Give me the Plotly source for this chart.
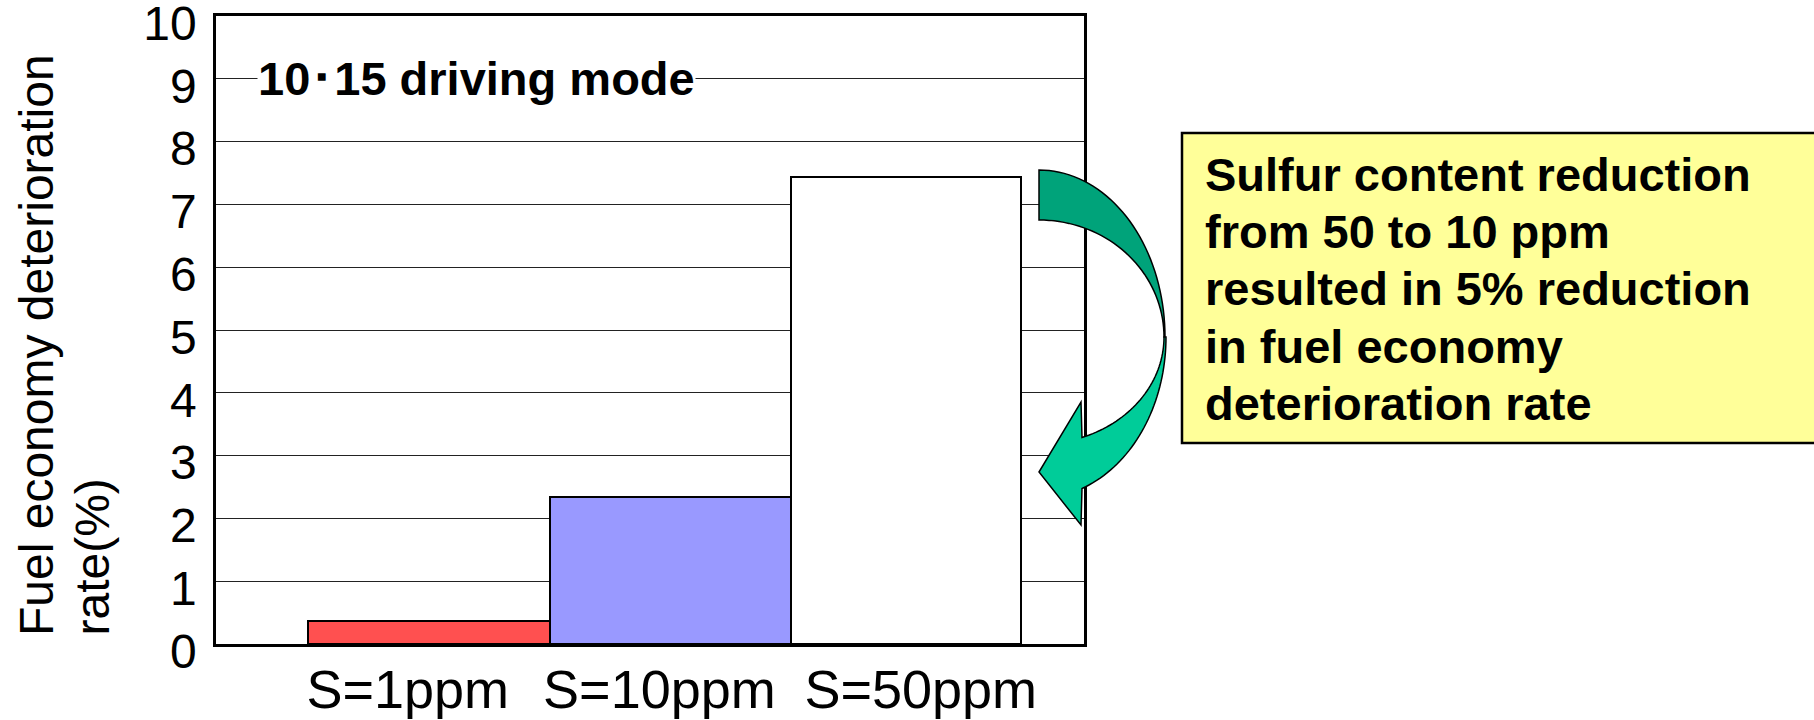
import numpy as np
import plotly.graph_objects as go

# ---------------- data ----------------
categories = ["S=1ppm", "S=10ppm", "S=50ppm"]
deterioration = [0.37, 2.34, 7.44]
bar_colors = ["#FF5050", "#9999FF", "#FFFFFF"]
y_ticks = list(range(0, 11))
y_title_lines = ["Fuel economy deterioration", "rate(%)"]
mode_label = "10･15 driving mode"
note_lines = [
    "Sulfur content reduction",
    "from 50 to 10 ppm",
    "resulted in 5% reduction",
    "in fuel economy",
    "deterioration rate",
]

# ---------------- layout helpers (pixels -> paper) ----------------
W, H = 1814, 720
L, R, T, B = 216, 1084, 16, 644          # plot area in pixels
def px(x):
    return (x - L) / (R - L)
def py(y):
    return (B - y) / (B - T)

FONT = "Arial, Liberation Sans, sans-serif"
bar_widths = [1, 1, 0.952]
label_shift = [-0.087, -0.045, 0.037]
xpos = list(range(len(categories)))

fig = go.Figure()
fig.add_trace(go.Bar(
    x=xpos, y=deterioration, width=bar_widths, offset=-0.5,
    marker=dict(color=bar_colors, line=dict(color="black", width=2)),
    hoverinfo="skip", showlegend=False,
))

fig.update_layout(
    width=W, height=H,
    margin=dict(l=L, r=W - R, t=T, b=H - B, pad=0, autoexpand=False),
    paper_bgcolor="white", plot_bgcolor="white",
    font=dict(family=FONT, color="black"),
    bargap=0,
    xaxis=dict(
        range=[-0.881, 2.713], tickvals=[i + s for i, s in zip(xpos, label_shift)],
        ticktext=categories, tickfont=dict(size=54, family=FONT, color="black"),
        showgrid=False, zeroline=False, ticks="", ticklabelstandoff=-4, automargin=False,
        showline=True, linecolor="black", linewidth=2.5, mirror=True,
    ),
    yaxis=dict(
        range=[0, 10], tickvals=y_ticks, tickfont=dict(size=48, family=FONT, color="black"),
        showgrid=True, gridcolor="#222222", gridwidth=1.2, zeroline=False, ticks="",
        ticklabelstandoff=7, ticklabelshift=7, automargin=False, ticklabeloverflow="allow",
        showline=True, linecolor="black", linewidth=2.5, mirror=True,
    ),
)

annotations = []
# driving mode label sitting on the 9 gridline
annotations.append(dict(
    text=f"<b>{mode_label}</b>", x=px(476.5), y=9, xref="paper", yref="y",
    xanchor="center", yanchor="middle", showarrow=False, bgcolor="white", borderpad=0,
    font=dict(size=47, family=FONT, color="black"),
))
# y title lines (rotated, bottom-aligned)
for line, cx in zip(y_title_lines, [36, 92]):
    annotations.append(dict(
        text=line, x=px(cx), y=py(638), xref="paper", yref="paper",
        xanchor="center", yanchor="bottom", textangle=-90, showarrow=False,
        font=dict(size=48, family=FONT, color="black"),
    ))
# note box text
for i, line in enumerate(note_lines):
    annotations.append(dict(
        text=f"<b>{line}</b>", x=px(1203), y=py(174.5 + 57.2 * i), xref="paper", yref="paper",
        xanchor="left", yanchor="middle", showarrow=False,
        font=dict(size=47, family=FONT, color="black"),
    ))
fig.update_layout(annotations=annotations)

# ---------------- shapes: note box + curved arrow ----------------
shapes = []
shapes.append(dict(
    type="rect", xref="paper", yref="paper",
    x0=px(1182), x1=px(1840), y0=py(443), y1=py(133),
    fillcolor="#FFFF99", line=dict(color="black", width=2.5), layer="above",
))

cx0, cy0 = 1039, 337
def arc(rx, ry, t0, t1, n=40, down=False):
    pts = []
    for t in np.linspace(np.radians(t0), np.radians(t1), n):
        x = cx0 + rx * np.cos(t)
        y = cy0 + (ry * np.sin(t) if down else -ry * np.sin(t))
        pts.append((x, y))
    return pts

def to_path(pts):
    return "M " + " L ".join(f"{px(x):.5f},{py(y):.5f}" for x, y in pts) + " Z"

dark = arc(126, 167, 90, 0) + arc(125, 117, 0, 90)
t_out = np.degrees(np.arccos(43 / 127))
t_in = np.degrees(np.arccos(43 / 125))
light = (arc(127, 161, 0, t_out, down=True)
         + [(1081, 525), (1039, 472), (1081, 402)]
         + arc(125, 107, t_in, 0, down=True))
shapes.append(dict(type="path", xref="paper", yref="paper", path=to_path(dark),
                   fillcolor="#00A37A", line=dict(color="black", width=1.5), layer="above"))
shapes.append(dict(type="path", xref="paper", yref="paper", path=to_path(light),
                   fillcolor="#00CC99", line=dict(color="black", width=1.5), layer="above"))
fig.update_layout(shapes=shapes)

fig.write_html("out.html", config={"displayModeBar": False},
               post_script="document.body.style.margin='0px';")
